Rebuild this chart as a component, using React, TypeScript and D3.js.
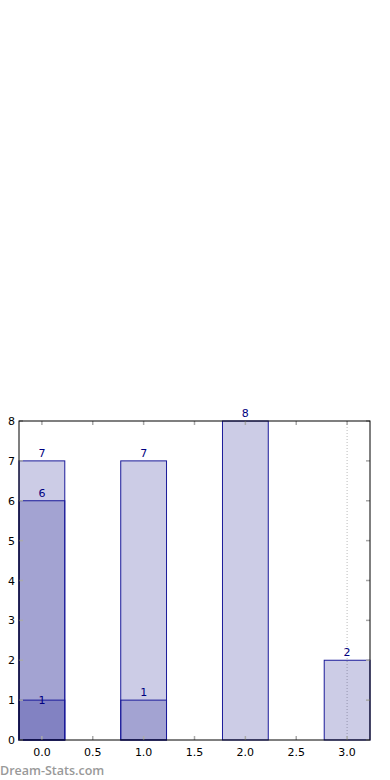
import React, { useRef, useEffect } from "react";
import * as d3 from "d3";

const categories = [0, 1, 2, 3];
const seriesA = [7, 7, 8, 2];
const seriesB = [6, 1, null, null];
const seriesC = [1, null, null, null];
const xTicks = [0, 0.5, 1, 1.5, 2, 2.5, 3];
const yTicks = [0, 1, 2, 3, 4, 5, 6, 7, 8];

const App = () => {
  const svgRef = useRef(null);

  useEffect(() => {
    const svg = d3.select(svgRef.current);
    svg.selectAll("*").remove();
    const margin = { top: 421, left: 19, right: 20, bottom: 40 };
    const width = 390;
    const height = 780;
    const innerWidth = width - margin.left - margin.right;
    const innerHeight = height - margin.top - margin.bottom;

    const x = d3.scaleLinear().domain([-0.225, 3.225]).range([0, innerWidth]);
    const y = d3.scaleLinear().domain([0, 8]).range([innerHeight, 0]);
    const barW = x(0.45) - x(0);

    const g = svg
      .append("g")
      .attr("transform", `translate(${margin.left},${margin.top})`);

    /* dotted line at x = 3 */
    g.append("line")
      .attr("x1", x(3))
      .attr("x2", x(3))
      .attr("y1", 0)
      .attr("y2", innerHeight)
      .attr("stroke", "#bbb")
      .attr("stroke-dasharray", "1,2");

    /* bars, drawn as translucent layers; the last layer's label sits on its edge */
    const labelOffsets = [-4, -4, 4];
    [seriesA, seriesB, seriesC].forEach((series, si) => {
      categories.forEach((c, i) => {
        const v = series[i];
        if (v == null) return;
        g.append("rect")
          .attr("x", x(c) - barW / 2)
          .attr("y", y(v))
          .attr("width", barW)
          .attr("height", innerHeight - y(v))
          .attr("fill", "rgba(0,0,128,0.2)")
          .attr("stroke", "#1a1a99")
          .attr("stroke-width", 1);
        g.append("text")
          .attr("x", x(c))
          .attr("y", y(v) + labelOffsets[si])
          .attr("text-anchor", "middle")
          .attr("fill", "#000080")
          .style("font-family", "DejaVu Sans")
          .style("font-size", "11px")
          .text(v);
      });
    });

    /* tick marks on all four sides */
    const tickColor = "#aaa";
    xTicks.forEach((t) => {
      g.append("line").attr("x1", x(t)).attr("x2", x(t)).attr("y1", innerHeight).attr("y2", innerHeight - 4).attr("stroke", tickColor).attr("stroke-width", 1.5);
      g.append("line").attr("x1", x(t)).attr("x2", x(t)).attr("y1", 0).attr("y2", 4).attr("stroke", tickColor).attr("stroke-width", 1.5);
      g.append("text")
        .attr("x", x(t))
        .attr("y", innerHeight + 16)
        .attr("text-anchor", "middle")
        .style("font-family", "DejaVu Sans")
        .style("font-size", "11px")
        .text(t.toFixed(1));
    });
    yTicks.forEach((t) => {
      g.append("line").attr("x1", 0).attr("x2", 4).attr("y1", y(t)).attr("y2", y(t)).attr("stroke", tickColor).attr("stroke-width", 1.5);
      g.append("line").attr("x1", innerWidth).attr("x2", innerWidth - 4).attr("y1", y(t)).attr("y2", y(t)).attr("stroke", tickColor).attr("stroke-width", 1.5);
      g.append("text")
        .attr("x", -4)
        .attr("y", y(t) + 4)
        .attr("text-anchor", "end")
        .style("font-family", "DejaVu Sans")
        .style("font-size", "11px")
        .text(t);
    });

    /* frame */
    g.append("rect")
      .attr("width", innerWidth)
      .attr("height", innerHeight)
      .attr("fill", "none")
      .attr("stroke", "#000")
      .attr("stroke-width", 1);

    svg
      .append("text")
      .attr("x", 0)
      .attr("y", 775)
      .attr("fill", "#999")
      .style("font-family", "Open Sans")
      .style("font-size", "12.5px")
      .style("font-weight", "600")
      .text("Dream-Stats.com");
  }, []);

  return (
    <svg
      ref={svgRef}
      width={390}
      height={780}
      style={{ position: "absolute", left: 0, top: 0 }}
    ></svg>
  );
};

export default App;
